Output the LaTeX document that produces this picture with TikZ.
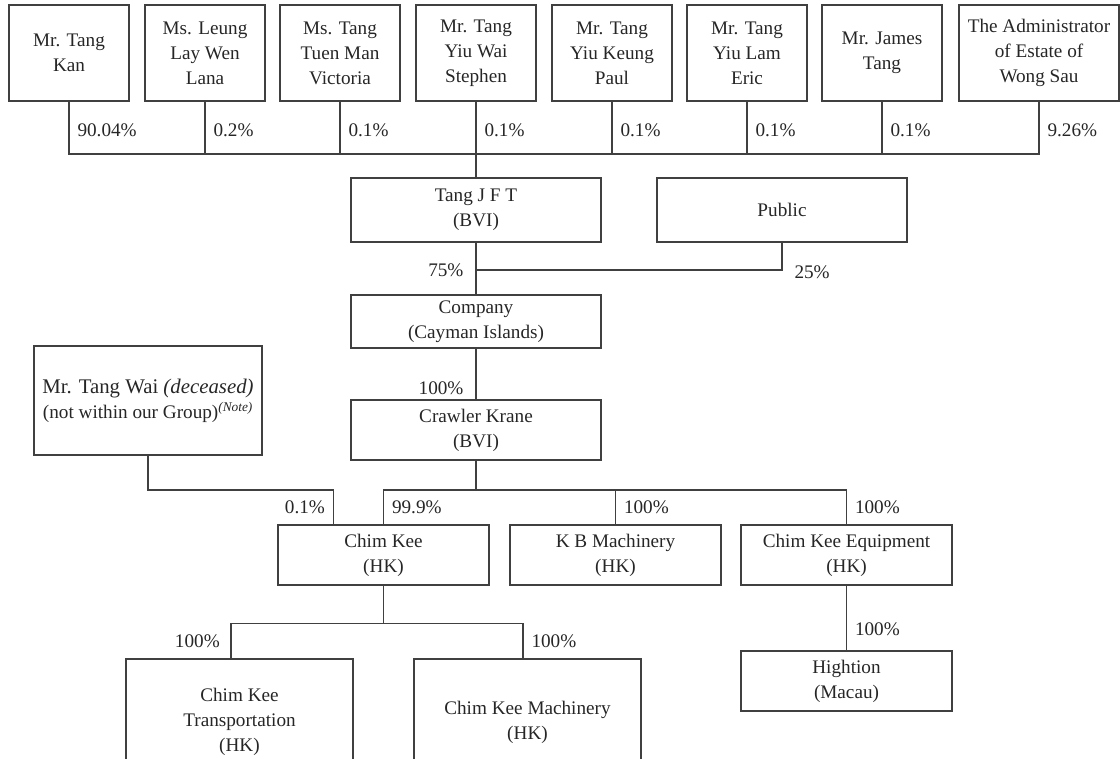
\documentclass[tikz,border=0pt]{standalone}
\usepackage{fontspec}
\setmainfont{Liberation Serif}
\usetikzlibrary{calc}

\begin{document}
\begin{tikzpicture}[x=0.75pt,y=-0.75pt,
  font=\fontsize{14.4}{18.8}\selectfont,
  box/.style={draw=black!75, line width=0.8pt, align=center, text=black!85, inner sep=2pt},
  owner/.style={box, minimum width=90pt, minimum height=72pt},
  wide/.style={box, minimum width=187.5pt},
  sub/.style={box, minimum width=158.25pt, minimum height=45pt},
  pct/.style={text=black!85, inner sep=6pt},
  link/.style={draw=black!75, line width=0.8pt}]

\useasboundingbox (0,0) rectangle (1120,759);

% Shareholders of Tang J F T
\node[owner] (kan) at (69,53) {Mr. Tang\\Kan};
\node[owner] (leung) at (205,53) {Ms. Leung\\Lay Wen\\Lana};
\node[owner] (tuen) at (340,53) {Ms. Tang\\Tuen Man\\Victoria};
\node[owner] (stephen) at (476,53) {Mr. Tang\\Yiu Wai\\Stephen};
\node[owner] (paul) at (612,53) {Mr. Tang\\Yiu Keung\\Paul};
\node[owner] (eric) at (747,53) {Mr. Tang\\Yiu Lam\\Eric};
\node[owner] (james) at (882,53) {Mr. James\\Tang};
\node[owner, minimum width=120pt] (wong) at (1039,53) {The Administrator\\of Estate of\\Wong Sau};

% Holding companies
\node[wide, minimum height=48pt] (jft) at (476,210) {Tang J F T\\(BVI)};
\node[wide, minimum height=48pt] (pub) at (782,210) {Public};
\node[wide, minimum height=39.75pt] (co) at (476,321.5) {Company\\(Cayman Islands)};
\node[wide, minimum height=45pt] (cr) at (476,430) {Crawler Krane\\(BVI)};
\node[box, minimum width=171pt, minimum height=81.75pt] (tw) at (148,400.5)
  {{\fontsize{15.6}{18.8}\selectfont Mr. Tang Wai \textit{(deceased)}}\\(not within our Group)\textsuperscript{\itshape(Note)}};

% Subsidiaries
\node[sub] (ck) at (383.5,555) {Chim Kee\\(HK)};
\node[sub] (kb) at (615.5,555) {K B Machinery\\(HK)};
\node[sub] (eq) at (846.5,555) {Chim Kee Equipment\\(HK)};
\node[sub] (hi) at (846.5,681) {Hightion\\(Macau)};
\node[box, minimum width=170.25pt, minimum height=94.5pt] (ckt) at (239.5,722) {Chim Kee\\Transportation\\(HK)};
\node[box, minimum width=170.25pt, minimum height=94.5pt] (ckm) at (527.5,722) {Chim Kee Machinery\\(HK)};

% Top level holdings
\coordinate (ownbus) at (476,154);
\draw[link] (kan.south) |- node[pct,right,pos=0.275] {90.04\%} (ownbus);
\draw[link] (leung.south) |- node[pct,right,pos=0.275] {0.2\%} (ownbus);
\draw[link] (tuen.south) |- node[pct,right,pos=0.275] {0.1\%} (ownbus);
\draw[link] (stephen.south) -- node[pct,right,pos=0.38] {0.1\%} (jft.north);
\draw[link] (paul.south) |- node[pct,right,pos=0.275] {0.1\%} (ownbus);
\draw[link] (eric.south) |- node[pct,right,pos=0.275] {0.1\%} (ownbus);
\draw[link] (james.south) |- node[pct,right,pos=0.275] {0.1\%} (ownbus);
\draw[link] (wong.south) |- node[pct,right,pos=0.275] {9.26\%} (ownbus);

% Company
\coordinate (pubjoin) at (476,270);
\draw[link] (jft.south) -- node[pct,left,pos=0.54,xshift=-3pt] {75\%} (co.north);
\draw[link] (pub.south) |- node[pct,right,pos=0.5,xshift=3pt,yshift=-2pt] {25\%} (pubjoin);
\draw[link] (co.south) -- node[pct,left,pos=0.77,xshift=-3pt] {100\%} (cr.north);

% Crawler Krane and Mr. Tang Wai
\coordinate (crbus) at (476,490);
\coordinate (ckleft) at ($(ck.north west)+(56,0)$);
\draw[link] (cr.south) -- (crbus);
\draw[link] (crbus) -| node[pct,right,pos=0.75] {99.9\%} (ck.north);
\draw[link] (crbus) -| node[pct,right,pos=0.75] {100\%} (kb.north);
\draw[link] (crbus) -| node[pct,right,pos=0.75] {100\%} (eq.north);
\draw[link] (tw.south) |- (ckleft |- crbus) -- node[pct,left] {0.1\%} (ckleft);

% Chim Kee and Chim Kee Equipment
\coordinate (ckbus) at ($(ck.south)+(0,38)$);
\draw[link] (ck.south) -- (ckbus);
\draw[link] (ckbus) -| node[pct,left,pos=0.75,xshift=-2pt] {100\%} ([xshift=-6.4pt]ckt.north);
\draw[link] (ckbus) -| node[pct,right,pos=0.75] {100\%} ([xshift=-3.4pt]ckm.north);
\draw[link] (eq.south) -- node[pct,right,pos=0.68] {100\%} (hi.north);

\end{tikzpicture}
\end{document}
